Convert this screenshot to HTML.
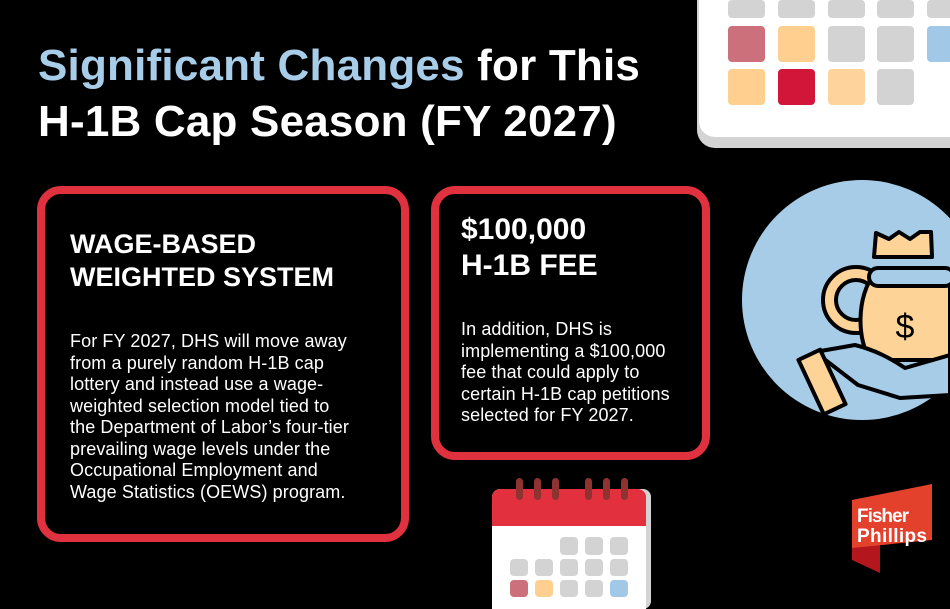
<!DOCTYPE html>
<html><head><meta charset="utf-8"><style>
body{margin:0;width:950px;height:600px;background:#000;position:relative;overflow:hidden;font-family:"Liberation Sans",sans-serif;color:#fff}
.t{position:absolute;left:38px;top:38px;font-size:44px;font-weight:bold;line-height:56px;letter-spacing:0.2px}
.box{position:absolute;border:8px solid #e0313f;border-radius:24px;box-sizing:border-box}
.h{font-weight:bold;font-size:27px;line-height:33px}
.p{font-size:18px;line-height:21.5px;white-space:nowrap;letter-spacing:0.1px}
.sq{position:absolute;border-radius:4px}
</style></head><body>
<div class="t"><span style="color:#a8cde9">Significant Changes</span> for This<br>H-1B Cap Season (FY 2027)</div>

<div class="box" style="left:37px;top:186px;width:372px;height:356px">
 <div class="h" style="position:absolute;left:25px;top:34px">WAGE-BASED<br>WEIGHTED SYSTEM</div>
 <div class="p" style="position:absolute;left:25px;top:137px">For FY 2027, DHS will move away<br>from a purely random H-1B cap<br>lottery and instead use a wage-<br>weighted selection model tied to<br>the Department of Labor’s four-tier<br>prevailing wage levels under the<br>Occupational Employment and<br>Wage Statistics (OEWS) program.</div>
</div>
<div class="box" style="left:431px;top:186px;width:279px;height:274px">
 <div class="h" style="position:absolute;left:22px;top:18px;font-size:30px;line-height:36px">$100,000<br>H-1B FEE</div>
 <div class="p" style="position:absolute;left:22px;top:125px">In addition, DHS is<br>implementing a $100,000<br>fee that could apply to<br>certain H-1B cap petitions<br>selected for FY 2027.</div>
</div>

<!-- top calendar -->
<div style="position:absolute;left:697px;top:-20px;width:280px;height:168px;background:#d4d4d4;border-radius:0 0 0 18px"></div>
<div style="position:absolute;left:699px;top:-20px;width:280px;height:157px;background:#fff;border-radius:0 0 0 16px"></div>
<div class="sq" style="left:728px;top:0;width:37px;height:18px;background:#d3d3d3"></div>
<div class="sq" style="left:778px;top:0;width:37px;height:18px;background:#d3d3d3"></div>
<div class="sq" style="left:828px;top:0;width:37px;height:18px;background:#d3d3d3"></div>
<div class="sq" style="left:877px;top:0;width:37px;height:18px;background:#d3d3d3"></div>
<div class="sq" style="left:927px;top:0;width:37px;height:18px;background:#d3d3d3"></div>
<div class="sq" style="left:728px;top:26px;width:37px;height:36px;background:#cc707b"></div>
<div class="sq" style="left:778px;top:26px;width:37px;height:36px;background:#fecf8f"></div>
<div class="sq" style="left:828px;top:26px;width:37px;height:36px;background:#d3d3d3"></div>
<div class="sq" style="left:877px;top:26px;width:37px;height:36px;background:#d3d3d3"></div>
<div class="sq" style="left:927px;top:26px;width:37px;height:36px;background:#a2c8e8"></div>
<div class="sq" style="left:728px;top:69px;width:37px;height:36px;background:#fecf8f"></div>
<div class="sq" style="left:778px;top:69px;width:37px;height:36px;background:#d2163a"></div>
<div class="sq" style="left:828px;top:69px;width:37px;height:36px;background:#fed39c"></div>
<div class="sq" style="left:877px;top:69px;width:37px;height:36px;background:#d3d3d3"></div>

<!-- circle icon -->
<svg style="position:absolute;left:0;top:0" width="950" height="600">
 <circle cx="862" cy="300" r="120" fill="#a6cce8"/>
 <g stroke="#000" stroke-width="4" stroke-linejoin="round" stroke-linecap="round">
  <circle cx="856" cy="300" r="33" fill="#fed398"/>
  <circle cx="856" cy="300" r="20" fill="#a6cce8"/>
  <path d="M876 233 L889 239 L899 232 L910 239 L920 232 L931 232 L932 257 L874 257 Z" fill="#fed398"/>
  <path d="M875 272 C855 300 858 340 870 360 L950 360 L950 275 Z" fill="#fed398"/>
  <rect x="869" y="268" width="85" height="18" rx="9" fill="#a6cce8"/>
  <path d="M815 352 L855 345 C875 350 890 358 905 368 L950 355 L950 395 L900 398 L858 385 Z" fill="#a6cce8"/>
  <rect x="810" y="352" width="24" height="60" transform="rotate(-25 822 382)" fill="#fed398"/>
 </g>
 <text x="905" y="338" font-family="Liberation Sans" font-size="34" text-anchor="middle" fill="#000">$</text>
</svg>

<!-- bottom calendar -->
<div style="position:absolute;left:495px;top:489px;width:156px;height:120px;background:#d4d4d4;border-radius:8px"></div>
<div style="position:absolute;left:492px;top:489px;width:154px;height:120px;background:#fff;border-radius:8px 8px 0 0"></div>
<div style="position:absolute;left:492px;top:489px;width:154px;height:37px;background:#e2303f;border-radius:8px 8px 0 0"></div>
<div style="position:absolute;left:516px;top:478px;width:7px;height:22px;background:#8f3330;border-radius:4px"></div>
<div style="position:absolute;left:534px;top:478px;width:7px;height:22px;background:#8f3330;border-radius:4px"></div>
<div style="position:absolute;left:552px;top:478px;width:7px;height:22px;background:#8f3330;border-radius:4px"></div>
<div style="position:absolute;left:585px;top:478px;width:7px;height:22px;background:#8f3330;border-radius:4px"></div>
<div style="position:absolute;left:603px;top:478px;width:7px;height:22px;background:#8f3330;border-radius:4px"></div>
<div style="position:absolute;left:621px;top:478px;width:7px;height:22px;background:#8f3330;border-radius:4px"></div>
<div class="sq" style="left:560px;top:537px;width:18px;height:18px;background:#d3d3d3"></div>
<div class="sq" style="left:585px;top:537px;width:18px;height:18px;background:#d3d3d3"></div>
<div class="sq" style="left:610px;top:537px;width:18px;height:18px;background:#d3d3d3"></div>
<div class="sq" style="left:510px;top:559px;width:18px;height:17px;background:#d3d3d3"></div>
<div class="sq" style="left:535px;top:559px;width:18px;height:17px;background:#d3d3d3"></div>
<div class="sq" style="left:560px;top:559px;width:18px;height:17px;background:#d3d3d3"></div>
<div class="sq" style="left:585px;top:559px;width:18px;height:17px;background:#d3d3d3"></div>
<div class="sq" style="left:610px;top:559px;width:18px;height:17px;background:#d3d3d3"></div>
<div class="sq" style="left:510px;top:580px;width:18px;height:17px;background:#cc707b"></div>
<div class="sq" style="left:535px;top:580px;width:18px;height:17px;background:#fecf8f"></div>
<div class="sq" style="left:560px;top:580px;width:18px;height:17px;background:#d3d3d3"></div>
<div class="sq" style="left:585px;top:580px;width:18px;height:17px;background:#d3d3d3"></div>
<div class="sq" style="left:610px;top:580px;width:18px;height:17px;background:#a2c8e8"></div>

<!-- logo -->
<svg style="position:absolute;left:850px;top:480px" width="85" height="95">
 <polygon points="2,55 30,60 30,93 2,80" fill="#b3161c"/>
 <polygon points="2,20 82,4 82,60 2,68" fill="#e4412c"/>
 <text x="7" y="42" font-family="Liberation Sans" font-weight="bold" font-size="19" fill="#fff" textLength="52">Fisher</text>
 <text x="7" y="62" font-family="Liberation Sans" font-weight="bold" font-size="19" fill="#fff" textLength="70">Phillips</text>
</svg>
</body></html>
